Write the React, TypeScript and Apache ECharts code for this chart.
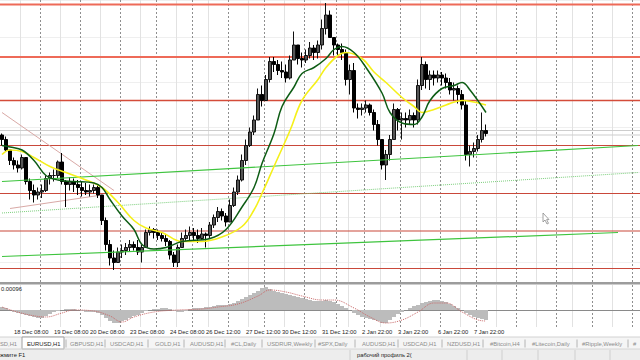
import React, { useEffect, useRef } from 'react';
import * as echarts from 'echarts';

// ---- slots (each slot = one resampled bar of the H1 chart) ----
const SLOT_COUNT = 160;
const slots = Array.from({ length: SLOT_COUNT }, (_, i) => `b${i}`);

// ---- EURUSD price bars ----
const firstOpen = 1.1155;
const highs = [
  1.1156, 1.1154, 1.1145, 1.1140, 1.1138, 1.1142, 1.1140, 1.1126, 1.1122, 1.1120,
  1.1122, 1.1128, 1.1130, 1.1132, 1.1138, 1.1143, 1.1125, 1.1127, 1.1126, 1.1125,
  1.1124, 1.1123, 1.1122, 1.1122, 1.1122, 1.1115, 1.1100, 1.1085, 1.1078, 1.1080,
  1.1082, 1.1083, 1.1085, 1.1084, 1.1085, 1.1082, 1.1092, 1.1094, 1.1093, 1.1092,
  1.1090, 1.1089, 1.1085, 1.1077, 1.1082, 1.1090, 1.1092, 1.1094, 1.1093, 1.1092,
  1.1093, 1.1090, 1.1097, 1.1102, 1.1107, 1.1106, 1.1103, 1.1112, 1.1120, 1.1128,
  1.1142, 1.1152, 1.1160, 1.1168, 1.1186, 1.1188, 1.1195, 1.1207, 1.1207, 1.1205,
  1.1204, 1.1202, 1.1208, 1.1224, 1.1215, 1.1210, 1.1212, 1.1217, 1.1215, 1.1218,
  1.1232, 1.1243, 1.1238, 1.1220, 1.1216, 1.1216, 1.1212, 1.1202, 1.1203, 1.1176,
  1.1176, 1.1178, 1.1176, 1.1172, 1.1165, 1.1152, 1.1145, 1.1155, 1.1176, 1.1173,
  1.1170, 1.1170, 1.1172, 1.1170, 1.1192, 1.1207, 1.1204, 1.1198, 1.1198, 1.1198,
  1.1197, 1.1196, 1.1193, 1.1190, 1.1188, 1.1185, 1.1178, 1.1148, 1.1150, 1.1155,
  1.1170, 1.1162,
];
const lows = [
  1.1148, 1.1144, 1.1135, 1.1132, 1.1130, 1.1132, 1.1122, 1.1112, 1.1110, 1.1112,
  1.1113, 1.1117, 1.1122, 1.1124, 1.1126, 1.1122, 1.1107, 1.1118, 1.1117, 1.1115,
  1.1114, 1.1115, 1.1114, 1.1116, 1.1113, 1.1095, 1.1078, 1.1068, 1.1065, 1.1070,
  1.1073, 1.1075, 1.1077, 1.1078, 1.1075, 1.1070, 1.1080, 1.1088, 1.1086, 1.1085,
  1.1084, 1.1081, 1.1072, 1.1067, 1.1067, 1.1080, 1.1084, 1.1085, 1.1085, 1.1083,
  1.1085, 1.1080, 1.1086, 1.1093, 1.1097, 1.1098, 1.1094, 1.1097, 1.1107, 1.1115,
  1.1124, 1.1135, 1.1147, 1.1155, 1.1165, 1.1174, 1.1178, 1.1190, 1.1197, 1.1195,
  1.1193, 1.1190, 1.1192, 1.1205, 1.1202, 1.1200, 1.1203, 1.1206, 1.1205, 1.1206,
  1.1212, 1.1222, 1.1220, 1.1208, 1.1207, 1.1205, 1.1188, 1.1182, 1.1170, 1.1166,
  1.1168, 1.1170, 1.1168, 1.1158, 1.1148, 1.1132, 1.1125, 1.1138, 1.1152, 1.1158,
  1.1152, 1.1160, 1.1162, 1.1160, 1.1162, 1.1185, 1.1186, 1.1185, 1.1188, 1.1190,
  1.1188, 1.1186, 1.1182, 1.1178, 1.1176, 1.1172, 1.1138, 1.1134, 1.1140, 1.1144,
  1.1150, 1.1154,
];
const closes = [
  1.1152, 1.1145, 1.1138, 1.1135, 1.1133, 1.1140, 1.1124, 1.1118, 1.1115, 1.1117,
  1.1118, 1.1126, 1.1128, 1.1128, 1.1137, 1.1124, 1.1122, 1.1124, 1.1122, 1.1120,
  1.1118, 1.1117, 1.1118, 1.1120, 1.1115, 1.1098, 1.1082, 1.1073, 1.1070, 1.1077,
  1.1078, 1.1080, 1.1082, 1.1080, 1.1077, 1.1080, 1.1090, 1.1092, 1.1090, 1.1088,
  1.1086, 1.1084, 1.1075, 1.1070, 1.1080, 1.1086, 1.1088, 1.1090, 1.1088, 1.1086,
  1.1089, 1.1088, 1.1095, 1.1100, 1.1104, 1.1101, 1.1097, 1.1108, 1.1117, 1.1125,
  1.1138, 1.1148, 1.1157, 1.1165, 1.1182, 1.1178, 1.1192, 1.1204, 1.1202, 1.1198,
  1.1197, 1.1193, 1.1205, 1.1215, 1.1206, 1.1205, 1.1208, 1.1213, 1.1210, 1.1215,
  1.1226, 1.1235, 1.1220, 1.1215, 1.1212, 1.1210, 1.1192, 1.1198, 1.1173, 1.1172,
  1.1173, 1.1175, 1.1170, 1.1162, 1.1152, 1.1135, 1.1142, 1.1152, 1.1172, 1.1165,
  1.1166, 1.1165, 1.1168, 1.1165, 1.1188, 1.1202, 1.1192, 1.1195, 1.1193, 1.1195,
  1.1193, 1.1190, 1.1185, 1.1186, 1.1182, 1.1175, 1.1142, 1.1144, 1.1146, 1.1152,
  1.1158, 1.1156,
];

// ---- moving averages, [slot, price] ----
const fastMA = [
  [0, 1.1148], [2, 1.1147], [5, 1.1145], [8, 1.1138], [11, 1.1128], [14, 1.1125], [18, 1.1124],
  [23, 1.1123], [25, 1.1120], [27, 1.1112], [30, 1.1101], [33, 1.1092], [35, 1.1082], [38, 1.1079],
  [41, 1.1080], [45, 1.1084], [52, 1.1086], [56, 1.1092], [60, 1.1107], [63, 1.1120], [65, 1.1136],
  [68, 1.1156], [70, 1.1174], [73, 1.1187], [75, 1.1196], [78, 1.1200], [81, 1.1206], [83, 1.1212],
  [85, 1.1214], [88, 1.1210], [91, 1.1200], [95, 1.1183], [97, 1.1170], [100, 1.1163], [103, 1.1162],
  [105, 1.1167], [107, 1.1178], [110, 1.1186], [113, 1.1188], [115, 1.1190], [117, 1.1185], [121, 1.1170],
];
const slowMA = [
  [0, 1.1142], [2, 1.1145], [5, 1.1144], [8, 1.1140], [12, 1.1134], [16, 1.1130], [21, 1.1125],
  [25, 1.1120], [29, 1.1110], [33, 1.1098], [36, 1.1093], [40, 1.1090], [45, 1.1084], [50, 1.1084],
  [55, 1.1087], [60, 1.1094], [63, 1.1105], [65, 1.1116], [68, 1.1134], [72, 1.1158], [75, 1.1178],
  [79, 1.1192], [81, 1.1200], [84, 1.1208], [86, 1.1210], [90, 1.1206], [93, 1.1197], [96, 1.1190],
  [100, 1.1180], [103, 1.1174], [105, 1.1170], [108, 1.1172], [111, 1.1175], [115, 1.1178], [118, 1.1177],
  [121, 1.1175],
];

// ---- drawn objects ----
const upperTrend = [[0, 1.1124], [159, 1.1148]];
const lowerTrend = [[0, 1.1074], [154, 1.1090]];
const dottedTrend = [[0, 1.1103], [159, 1.1130]];
const pinkDown = [[0, 1.1170], [28, 1.1118]];
const pinkUp = [[2, 1.1106], [25, 1.1115]];
const redLevels = [1.1242, 1.1207, 1.1178, 1.1148, 1.1116, 1.1091, 1.1066];
const priceLines = [1.1158, 1.1155];

// ---- MACD ----
const macdHist = [
  0.00012, 0.00008, 0, -0.00008, -0.00012, -0.00016, -0.0002, -0.00024, -0.00028, -0.00032,
  -0.00032, -0.00024, -0.00016, -0.00008, -0.00004, 0, 0.00004, 0.00004, 0.00004, 0,
  -0.00004, -0.00008, -0.00008, -0.00008, -0.00012, -0.0002, -0.00032, -0.00044, -0.00052, -0.00052,
  -0.00044, -0.0004, -0.00032, -0.00024, -0.0002, -0.00012, -0.00004, 0, 0.00004, 0.00004,
  0.00008, 0.00008, 0.00004, -0.00004, -0.00008, -0.00008, -0.00004, 0.00004, 0.00008, 0.00008,
  0.00008, 0.00012, 0.00012, 0.00016, 0.0002, 0.0002, 0.0002, 0.00024, 0.00028, 0.00036,
  0.00044, 0.00052, 0.0006, 0.00068, 0.00076, 0.00088, 0.00092, 0.00084, 0.00076, 0.00072,
  0.00068, 0.00064, 0.0006, 0.00056, 0.00052, 0.00048, 0.00044, 0.0004, 0.00036, 0.00036,
  0.00036, 0.0004, 0.00036, 0.00032, 0.00024, 0.00016, 0.00008, 0, -0.00012, -0.0002,
  -0.00028, -0.00032, -0.00036, -0.0004, -0.00044, -0.00052, -0.00052, -0.0004, -0.00028, -0.00016,
  -0.00008, 0, 0.00008, 0.00016, 0.0002, 0.00028, 0.00032, 0.00036, 0.0004, 0.0004,
  0.00036, 0.00032, 0.00024, 0.00016, 0.00008, 0, -0.00012, -0.0002, -0.00028, -0.00032,
  -0.00036, -0.0004,
];
const macdSignal = [
  [0, 0.00012], [11, -0.00028], [15, -0.00012], [18, 0], [23, -0.00004], [27, -0.00024], [30, -0.00048],
  [33, -0.00028], [38, -0.00008], [44, 0], [50, 0.00004], [54, 0.00012], [59, 0.00024], [64, 0.00056],
  [67, 0.0008], [71, 0.00072], [75, 0.00056], [80, 0.0004], [83, 0.0004], [88, 0.00008], [92, -0.00028],
  [96, -0.00052], [100, -0.0004], [104, -0.00008], [108, 0.00028], [111, 0.00028], [115, -0.00008],
  [119, -0.0004], [121, -0.00044],
];

// ---- time axis ----
const timeLabels = [
  '18 Dec 08:00', '19 Dec 08:00', '20 Dec 08:00', '23 Dec 08:00', '24 Dec 08:00', '26 Dec 12:00',
  '27 Dec 12:00', '30 Dec 12:00', '31 Dec 12:00', '2 Jan 22:00', '3 Jan 22:00', '6 Jan 22:00', '7 Jan 22:00',
];
const timeLabelSlots = [3, 13, 22, 32, 42, 51, 61, 70, 80, 90, 99, 109, 118];
const dashedSlots = [10, 20, 30, 39, 48, 57, 66, 76, 84, 91, 100, 110, 119, 129, 139, 148, 158];
const lightSlots = [5, 15, 25, 35, 44, 52, 62, 71, 80, 87, 95, 105, 115, 124, 134, 143, 153];

// ---- terminal tabs / status ----
const tabs = [
  'SD,H1', 'EURUSD,H1', 'GBPUSD,H1', 'USDCAD,H1', 'GOLD,H1', 'AUDUSD,H1', '#CL,Daily', 'USDRUR,Weekly',
  '#SPX,Daily', 'AUDUSD,H1', 'USDCAD,H1', 'NZDUSD,H1', '#Bitcoin,H4', '#Litecoin,Daily', '#Ripple,Weekly', '#',
];
const tabX = [0, 27, 70, 110, 155, 190, 231, 267, 318, 362, 403, 447, 490, 532, 582, 633];
const tabSepX = [66, 105, 148, 184, 225, 262, 315, 355, 398, 442, 483, 525, 577, 628];
const statusSepX = [350, 467, 502, 538, 575, 610];

const FONT = '"Liberation Sans", Arial, sans-serif';

export default function App() {
  const ref = useRef<HTMLDivElement>(null);

  useEffect(() => {
    document.body.style.margin = '0';
    const chart = echarts.init(ref.current!, null, { renderer: 'svg' });

    const candles = closes.map((c, i) => [i === 0 ? firstOpen : closes[i - 1], c, lows[i], highs[i]]);
    const dashSet = new Set(dashedSlots);
    const lightSet = new Set(lightSlots);
    const labelMap = new Map<number, string>(timeLabelSlots.map((s, k) => [s, timeLabels[k]]));

    const levelStyle = (k: number) =>
      k < 2 ? { color: '#ee6a58', width: 2 } :
      k === 2 ? { color: '#d44c3a', width: 1.5 } :
      { color: '#c9483a', width: 1.2 };

    const hiddenCat = (grid: number, pos: string, set: Set<number>, style: any) => ({
      type: 'category', gridIndex: grid, position: pos, data: slots, boundaryGap: true,
      axisLine: { show: false }, axisTick: { show: false }, axisLabel: { show: false },
      splitLine: { show: true, interval: (i: number) => set.has(i), lineStyle: style },
    });
    const dashStyle = { color: '#8e8e8e', width: 1, type: [2, 2] };
    const lightStyle = { color: '#e2e2e2', width: 1, type: 'solid' };

    const trend = (data: any, color: string, width: number, type: any = 'solid', z = 3) => ({
      type: 'line', xAxisIndex: 0, yAxisIndex: 0, data, symbol: 'none', silent: true, z,
      lineStyle: { color, width, type },
    });
    // full-width horizontal level on the unit x axis (index 4)
    const level = (v: number, style: any, z: number) => ({
      type: 'line', xAxisIndex: 4, yAxisIndex: 0, data: [[0, v], [1, v]], symbol: 'none', silent: true, z,
      lineStyle: { ...style, type: 'solid' },
    });

    const tabEls: any[] = [];
    tabEls.push({ type: 'rect', shape: { x: 0, y: 337, width: 640, height: 12 }, style: { fill: '#f5f5f5' }, z: 10 });
    tabEls.push({ type: 'line', shape: { x1: 0, y1: 337, x2: 640, y2: 337 }, style: { stroke: '#d2d2d2', lineWidth: 1 }, z: 11 });
    tabEls.push({ type: 'rect', shape: { x: 22, y: 337, width: 42, height: 12 }, style: { fill: '#ffffff', stroke: '#a0a0a0', lineWidth: 1 }, z: 11 });
    tabs.forEach((t, k) => {
      tabEls.push({
        type: 'text', z: 12,
        style: { text: t, x: tabX[k], y: 343.5, font: `5.8px ${FONT}`, fill: k === 1 ? '#1a1a1a' : '#8c8c8c', textVerticalAlign: 'middle', verticalAlign: 'middle' },
      });
    });
    tabSepX.forEach((x) => {
      tabEls.push({ type: 'line', shape: { x1: x, y1: 339.5, x2: x, y2: 347.5 }, style: { stroke: '#b4b4b4', lineWidth: 1 }, z: 12 });
    });
    tabEls.push({ type: 'rect', shape: { x: 0, y: 349, width: 640, height: 11 }, style: { fill: '#ededed' }, z: 10 });
    tabEls.push({ type: 'line', shape: { x1: 0, y1: 349, x2: 640, y2: 349 }, style: { stroke: '#d6d6d6', lineWidth: 1 }, z: 11 });
    statusSepX.forEach((x) => {
      tabEls.push({ type: 'line', shape: { x1: x, y1: 350, x2: x, y2: 360 }, style: { stroke: '#cfcfcf', lineWidth: 1 }, z: 12 });
    });
    tabEls.push({ type: 'text', z: 12, style: { text: 'жмите F1', x: 0, y: 355, font: `5.8px ${FONT}`, fill: '#222', textVerticalAlign: 'middle', verticalAlign: 'middle' } });
    tabEls.push({ type: 'text', z: 12, style: { text: 'рабочий профиль 2(', x: 357, y: 355, font: `5.8px ${FONT}`, fill: '#222', textVerticalAlign: 'middle', verticalAlign: 'middle' } });

    const option: any = {
      animation: false,
      backgroundColor: '#ffffff',
      grid: [
        { left: 0, right: 0, top: 0, height: 282 },
        { left: 0, right: 0, top: 285, height: 42 },
      ],
      xAxis: [
        hiddenCat(0, 'bottom', dashSet, dashStyle),
        hiddenCat(0, 'top', lightSet, lightStyle),
        {
          type: 'category', gridIndex: 1, position: 'bottom', data: slots, boundaryGap: true,
          axisLine: { show: true, lineStyle: { color: '#8a8a8a', width: 1 } },
          axisTick: { show: false },
          axisLabel: {
            show: true, interval: (i: number) => labelMap.has(i),
            formatter: (_v: string, i: number) => labelMap.get(i) ?? '',
            align: 'left', margin: 2, fontSize: 5.8, fontFamily: '"Liberation Sans", Arial, sans-serif', color: '#222',
          },
          splitLine: { show: true, interval: (i: number) => dashSet.has(i), lineStyle: dashStyle },
        },
        hiddenCat(1, 'top', lightSet, lightStyle),
        {
          type: 'value', gridIndex: 0, min: 0, max: 1, show: false,
        },
      ],
      yAxis: [
        {
          type: 'value', gridIndex: 0, min: 1.1057, max: 1.1245,
          axisLine: { show: false }, axisTick: { show: false }, axisLabel: { show: false },
          splitLine: { show: true, lineStyle: { color: '#efefef', width: 1 } },
        },
        {
          type: 'value', gridIndex: 1, min: -0.00068, max: 0.001,
          axisLine: { show: false }, axisTick: { show: false }, axisLabel: { show: false },
          splitLine: { show: false },
        },
      ],
      series: [
        ...priceLines.map((v) => level(v, { color: '#cdcdcd', width: 1 }, 1)),
        ...redLevels.map((v, k) => level(v, levelStyle(k), 2)),
        trend(dottedTrend, '#7ccf7c', 1, 'dotted', 2),
        trend(pinkDown, '#d9a9a6', 1, 'solid', 2),
        trend(pinkUp, '#d9a9a6', 1, 'solid', 2),
        {
          type: 'candlestick', xAxisIndex: 0, yAxisIndex: 0, data: candles, barWidth: 2.6, z: 4, silent: true,
          itemStyle: { color: '#555555', color0: '#000000', borderColor: '#111111', borderColor0: '#000000', borderWidth: 1 },
        },
        trend(upperTrend, '#3ec43e', 1.2, 'solid', 5),
        trend(lowerTrend, '#3ec43e', 1.2, 'solid', 5),
        { ...trend(slowMA, '#f5f01a', 1.6, 'solid', 6), smooth: 0.4 },
        { ...trend(fastMA, '#0d5c14', 1.5, 'solid', 7), smooth: 0.4 },
        {
          type: 'bar', xAxisIndex: 2, yAxisIndex: 1, data: macdHist, barCategoryGap: '0%', silent: true,
          itemStyle: { color: '#bcbcbc' },
        },
        {
          type: 'line', xAxisIndex: 2, yAxisIndex: 1, data: macdSignal, symbol: 'none', smooth: 0.4, silent: true,
          lineStyle: { color: '#c86a6a', width: 1, type: 'dotted' }, z: 5,
        },
      ],
      graphic: [
        { type: 'rect', shape: { x: 0, y: 282, width: 640, height: 2.5 }, style: { fill: '#9c9c9c' }, z: 10 },
        { type: 'text', z: 12, style: { text: '0.00096', x: 1, y: 289, font: `5.8px ${FONT}`, fill: '#222', textVerticalAlign: 'middle', verticalAlign: 'middle' } },
        {
          type: 'polygon', z: 12,
          shape: { points: [[543, 213], [543, 222], [545, 220], [547, 224], [548.5, 223.3], [546.6, 219.6], [549, 219.6]] },
          style: { fill: '#ffffff', stroke: '#8a8a8a', lineWidth: 0.8 },
        },
        ...tabEls,
      ],
    };

    chart.setOption(option);
    return () => chart.dispose();
  }, []);

  return <div ref={ref} style={{ width: 640, height: 360, background: '#fff' }} />;
}
